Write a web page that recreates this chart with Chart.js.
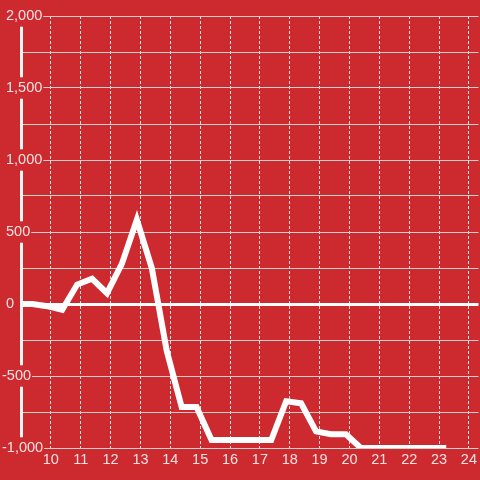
<!DOCTYPE html>
<html>
<head>
<meta charset="utf-8">
<script src="https://cdn.jsdelivr.net/npm/chart.js@4"></script>
<style>
  html, body { margin: 0; padding: 0; background: #cd2a30; }
  #wrap { width: 480px; height: 480px; }
</style>
</head>
<body>
<div id="wrap"><canvas id="c" width="480" height="480"></canvas></div>
<script>
// Hour of day (x) and value (y) for each sample
const hours = [8.88, 9.38, 9.88, 10.38, 10.88, 11.38, 11.88, 12.38, 12.88, 13.38, 13.88, 14.38, 14.88, 15.38, 15.88, 16.38, 16.88, 17.38, 17.88, 18.38, 18.88, 19.38, 19.88, 20.38, 20.88, 21.38, 21.88, 22.38, 22.88, 23.24];
const values = [0, 0, -15, -40, 135, 175, 75, 280, 585, 250, -325, -715, -715, -945, -945, -945, -945, -945, -675, -690, -885, -905, -905, -1000, -1000, -1000, -1000, -1000, -1000, -1000];

// Axis settings
const xMin = 9, xMax = 24.32, xStep = 1;
const yMin = -1000, yMax = 2000, yStep = 250, yLabelStep = 500;

const BG = '#cd2a30';
const TEXT = 'rgba(255,255,255,0.86)';
const FONT = { family: 'Liberation Sans, Arial, sans-serif', size: 14.5 };

new Chart(document.getElementById('c'), {
  type: 'line',
  data: {
    datasets: [{
      data: hours.map((h, i) => ({ x: h, y: values[i] })),
      borderColor: '#ffffff',
      borderWidth: 6,
      pointRadius: 0,
      tension: 0,
      fill: false
    }]
  },
  options: {
    responsive: false,
    animation: false,
    layout: { padding: { top: 16, left: 6, right: 0, bottom: 0 } },
    plugins: { legend: { display: false }, tooltip: { enabled: false } },
    scales: {
      x: {
        type: 'linear',
        min: xMin,
        max: xMax,
        afterFit: s => { s.height = 32; },
        ticks: {
          stepSize: xStep,
          includeBounds: false,
          autoSkip: false,
          maxRotation: 0,
          padding: 3,
          z: 1,
          color: TEXT,
          font: FONT,
          callback: v => (v === xMin ? '' : String(v))
        },
        grid: { color: 'rgba(255,255,255,0.85)', lineWidth: 1, drawTicks: false },
        border: { display: false, dash: [3, 2] }
      },
      y: {
        min: yMin,
        max: yMax,
        afterFit: s => { s.width = 15; },
        ticks: {
          stepSize: yStep,
          mirror: true,
          padding: -19,
          color: TEXT,
          font: FONT,
          showLabelBackdrop: true,
          backdropColor: BG,
          backdropPadding: { left: 2, right: 1, top: 2, bottom: 2 },
          callback: v => (v % yLabelStep === 0 ? (v < 0 ? '' : ' ') + v.toLocaleString('en-US') : '')
        },
        grid: {
          drawTicks: false,
          color: c => (c.tick && c.tick.value === 0 ? '#ffffff' : '#cfcfcf'),
          lineWidth: c => (c.tick && c.tick.value === 0 ? 3 : 1)
        },
        border: { display: true, color: '#f4f4f4', width: 3 }
      }
    }
  }
});
</script>
</body>
</html>
